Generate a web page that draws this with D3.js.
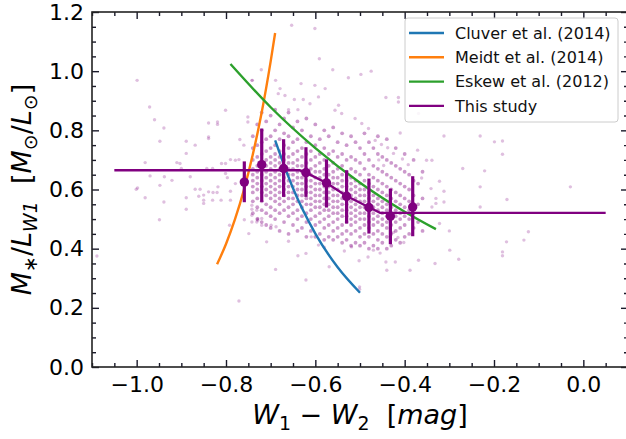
<!DOCTYPE html>
<html>
<head>
<meta charset="utf-8">
<script src="https://cdn.jsdelivr.net/npm/d3@7/dist/d3.min.js"></script>
<style>
  body { margin: 0; background: #fff; }
  svg { display: block; font-family: "DejaVu Sans", sans-serif; }
</style>
</head>
<body>
<div id="chart"></div>
<script>
// ---- data ----
// scattered galaxies outside the dense core
const outlierPts = [
  [-0.999,0.969],[-0.971,0.879],[-0.960,0.836],[-0.939,0.808],[-0.948,0.763],[-0.889,0.763],[-0.889,0.722],
  [-0.839,0.825],[-0.839,0.772],[-0.819,0.828],[-0.819,0.820],[-0.801,0.868],[-0.869,0.750],[-0.981,0.691],
  [-0.970,0.646],[-0.938,0.643],[-0.910,0.691],[-0.900,0.671],[-0.880,0.643],[-0.921,0.631],[-0.948,0.614],
  [-0.998,0.605],[-0.843,0.671],[-0.830,0.671],[-0.810,0.688],[-0.801,0.688],[-0.790,0.701],[-0.779,0.699],
  [-0.771,0.701],[-0.769,0.769],[-0.760,0.750],[-0.751,0.845],[-0.751,0.828],[-0.742,0.969],[-0.801,0.654],
  [-0.797,0.640],[-0.818,0.609],[-0.779,0.620],[-1.001,0.601],[-0.981,0.572],[-0.939,0.558],[-0.949,0.498],
  [-0.889,0.572],[-0.889,0.533],[-0.869,0.601],[-0.861,0.577],[-0.850,0.581],[-0.850,0.564],[-0.850,0.553],
  [-0.839,0.592],[-0.829,0.590],[-0.820,0.590],[-0.830,0.564],[-0.811,0.564],[-0.790,0.594],[-0.790,0.564],
  [-0.792,0.479],[-0.771,0.223],[-1.089,0.375],[-0.759,0.498],[-0.749,0.451],[-0.742,0.547],[-0.742,0.533],
  [-0.731,0.530],[-0.729,0.502],[-0.742,0.513],[-0.742,0.490],[-0.731,0.490],[-0.689,0.330],[-0.621,0.294],
  [-0.639,0.376],[-0.621,0.384],[-0.569,0.339],[-0.502,0.359],[-0.501,0.271],[-0.709,0.423],[-0.660,0.425],
  [-0.609,0.440],[-0.593,0.412],[-0.519,0.406],[-0.470,0.395],[-0.720,0.479],[-0.699,0.479],[-0.688,0.474],
  [-0.720,0.502],[-0.729,0.496],[-0.410,0.791],[-0.312,0.781],[-0.231,0.781],[-0.181,0.764],[-0.181,0.719],
  [-0.270,0.671],[-0.221,0.663],[-0.322,0.628],[-0.312,0.594],[-0.231,0.609],[-0.171,0.566],[-0.029,0.609],
  [-0.231,0.541],[-0.312,0.558],[-0.351,0.699],[-0.339,0.699],[-0.371,0.733],[-0.362,0.639],[-0.341,0.603],
  [-0.330,0.570],[-0.330,0.553],[-0.339,0.541],[-0.322,0.485],[-0.300,0.460],[-0.299,0.395],[-0.279,0.364],
  [-0.172,0.423],[-0.133,0.429],[-0.123,0.457],[-0.181,0.389],[-0.181,0.376],[-0.332,0.350],[-0.388,0.327],
  [-0.369,0.361],[-0.440,0.327],[-0.442,0.355],[-0.421,0.355],[-0.501,0.263],[-0.601,1.144],[-0.591,1.042],
  [-0.561,1.005],[-0.526,0.978],[-0.475,1.000],[-0.442,0.911],[-0.414,0.911],[-0.414,0.896],[-0.199,0.761],
  [-0.369,0.857],[-0.653,1.155],[-0.741,0.969],[-0.721,1.005],[-0.632,0.958],[-0.858,0.601],[-0.839,0.778],
  [-0.903,0.688],[-0.689,0.969],[-0.498,0.989],[-0.601,0.952],[-0.578,0.941],[-0.683,0.924],[-0.668,0.918],
  [-0.647,0.904],[-0.679,0.941],[-0.627,0.904],[-0.612,0.890],[-0.660,0.870],[-0.639,0.870],[-0.593,0.913],
  [-0.556,0.868],[-0.541,0.857],[-0.511,0.840],[-0.496,0.823],[-0.481,0.806],[-0.466,0.766],[-0.548,0.885],
  [-0.452,0.752],[-0.438,0.741],[-0.425,0.722],[-0.405,0.703],[-0.392,0.684],[-0.458,0.700],[-0.447,0.681],
  [-0.425,0.455],[-0.415,0.438],[-0.402,0.421],[-0.455,0.385],[-0.482,0.372],[-0.535,0.392],[-0.580,0.405]
];

// dense core, one column of y values per colour bin
const coreX = [-0.74,-0.73,-0.72,-0.71,-0.70,-0.69,-0.68,-0.67,-0.66,-0.65,-0.64,-0.63,-0.62,-0.61,-0.60,
  -0.59,-0.58,-0.57,-0.56,-0.55,-0.54,-0.53,-0.52,-0.51,-0.50,-0.49,-0.48,-0.47,-0.46,-0.45,-0.44,-0.43,
  -0.42,-0.41,-0.40,-0.39,-0.38,-0.37,-0.36];
const coreY = [
  [0.52,0.56,0.59,0.61,0.63,0.65,0.67,0.70,0.74,0.78],
  [0.50,0.54,0.57,0.60,0.62,0.64,0.66,0.68,0.71,0.75,0.82],
  [0.49,0.53,0.56,0.59,0.61,0.63,0.65,0.67,0.69,0.72,0.76,0.80,0.86],
  [0.48,0.52,0.55,0.58,0.60,0.62,0.64,0.66,0.68,0.70,0.73,0.77,0.83],
  [0.47,0.51,0.54,0.57,0.59,0.61,0.63,0.65,0.67,0.69,0.71,0.74,0.78,0.85],
  [0.50,0.53,0.56,0.58,0.60,0.62,0.64,0.66,0.68,0.70,0.72,0.75,0.80,0.87],
  [0.46,0.52,0.55,0.57,0.59,0.61,0.63,0.65,0.67,0.69,0.71,0.73,0.77,0.82],
  [0.49,0.53,0.56,0.58,0.60,0.62,0.64,0.66,0.68,0.70,0.72,0.75,0.79,0.84],
  [0.45,0.51,0.54,0.57,0.59,0.61,0.63,0.65,0.67,0.69,0.71,0.74,0.78,0.86],
  [0.48,0.52,0.55,0.57,0.59,0.61,0.63,0.65,0.67,0.69,0.72,0.76,0.81],
  [0.46,0.50,0.53,0.56,0.58,0.60,0.62,0.64,0.66,0.68,0.70,0.73,0.77,0.83],
  [0.47,0.51,0.54,0.56,0.58,0.60,0.62,0.64,0.66,0.68,0.71,0.74,0.80],
  [0.44,0.49,0.52,0.55,0.57,0.59,0.61,0.63,0.65,0.67,0.69,0.72,0.76,0.84],
  [0.46,0.50,0.53,0.55,0.57,0.59,0.61,0.63,0.65,0.67,0.70,0.73,0.78],
  [0.44,0.48,0.51,0.54,0.56,0.58,0.60,0.62,0.64,0.66,0.68,0.71,0.75,0.82],
  [0.45,0.49,0.52,0.54,0.56,0.58,0.60,0.62,0.64,0.66,0.69,0.72,0.77],
  [0.43,0.47,0.50,0.53,0.55,0.57,0.59,0.61,0.63,0.65,0.67,0.70,0.74,0.80],
  [0.44,0.48,0.51,0.53,0.55,0.57,0.59,0.61,0.63,0.65,0.68,0.72,0.78],
  [0.43,0.46,0.49,0.52,0.54,0.56,0.58,0.60,0.62,0.64,0.66,0.69,0.73,0.81],
  [0.44,0.47,0.50,0.52,0.54,0.56,0.58,0.60,0.62,0.64,0.67,0.71,0.76],
  [0.42,0.45,0.48,0.51,0.53,0.55,0.57,0.59,0.61,0.63,0.65,0.68,0.72,0.79],
  [0.43,0.46,0.49,0.51,0.53,0.55,0.57,0.59,0.61,0.63,0.66,0.70,0.75],
  [0.41,0.45,0.48,0.50,0.52,0.54,0.56,0.58,0.60,0.62,0.64,0.67,0.71,0.78],
  [0.42,0.46,0.49,0.51,0.53,0.55,0.57,0.59,0.61,0.63,0.66,0.70,0.76],
  [0.41,0.44,0.47,0.50,0.52,0.54,0.56,0.58,0.60,0.62,0.65,0.69,0.74],
  [0.42,0.45,0.48,0.50,0.52,0.54,0.56,0.58,0.60,0.63,0.67,0.72,0.79],
  [0.40,0.44,0.47,0.49,0.51,0.53,0.55,0.57,0.59,0.62,0.65,0.70,0.76],
  [0.41,0.45,0.48,0.50,0.52,0.54,0.56,0.58,0.61,0.64,0.68,0.74],
  [0.40,0.43,0.46,0.49,0.51,0.53,0.55,0.57,0.60,0.63,0.67,0.72,0.78],
  [0.42,0.45,0.48,0.50,0.52,0.54,0.56,0.59,0.62,0.66,0.71],
  [0.40,0.44,0.47,0.49,0.51,0.53,0.55,0.58,0.61,0.65,0.70,0.77],
  [0.41,0.45,0.48,0.50,0.52,0.54,0.57,0.60,0.64,0.69],
  [0.43,0.46,0.49,0.51,0.53,0.56,0.59,0.63,0.68,0.74],
  [0.42,0.47,0.50,0.52,0.55,0.58,0.62,0.67],
  [0.44,0.48,0.51,0.54,0.57,0.61,0.66,0.72],
  [0.45,0.50,0.53,0.56,0.60,0.65],
  [0.47,0.52,0.58,0.63,0.70],
  [0.49,0.55,0.62],
  [0.46,0.57,0.66]
];

// literature relations (sampled along the drawn curves)
const cluverX = [-0.69, -0.65, -0.60, -0.55, -0.50];
const cluverY = [0.766, 0.604, 0.451, 0.337, 0.251];
const meidtX = [-0.82, -0.80, -0.78, -0.76, -0.74, -0.72, -0.70, -0.69];
const meidtY = [0.347, 0.416, 0.499, 0.598, 0.718, 0.861, 1.033, 1.129];
const eskewX = [-0.79, -0.70, -0.60, -0.50, -0.40, -0.33];
const eskewY = [1.024, 0.878, 0.740, 0.623, 0.525, 0.466];

// this study: fitted relation and binned medians
const studyX = [-1.05, -0.635, -0.621, -0.575, -0.530, -0.480, -0.455, 0.05];
const studyY = [0.665, 0.665, 0.657, 0.622, 0.578, 0.540, 0.521, 0.521];
const binX  = [-0.759, -0.720, -0.671, -0.621, -0.575, -0.530, -0.480, -0.432, -0.382];
const binY  = [0.625, 0.684, 0.671, 0.657, 0.622, 0.577, 0.539, 0.510, 0.541];
const binLo = [0.557, 0.558, 0.575, 0.575, 0.539, 0.485, 0.451, 0.415, 0.442];
const binHi = [0.695, 0.806, 0.770, 0.743, 0.702, 0.665, 0.637, 0.603, 0.645];

const legendNames = ['Cluver et al. (2014)', 'Meidt et al. (2014)', 'Eskew et al. (2012)', 'This study'];
const legendColors = ['#1f77b4', '#ff7f0e', '#2ca02c', 'purple'];

// ---- layout ----
const W = 626, H = 439;
const margin = { left: 92, top: 12 };
const width = 536, height = 355;

const svg = d3.select('#chart').append('svg')
    .attr('width', W)
    .attr('height', H);

const g = svg.append('g')
    .attr('transform', 'translate(' + margin.left + ',' + margin.top + ')');

const x = d3.scaleLinear().domain([-1.1, 0.1]).range([0, width]);
const y = d3.scaleLinear().domain([0, 1.2]).range([height, 0]);

const plot = g.append('g');

// scatter
const corePts = [];
coreX.forEach((cx, i) => coreY[i].forEach(cy => corePts.push([cx, cy])));

plot.selectAll('circle.pt')
    .data(outlierPts)
    .enter()
    .append('circle')
    .attr('class', 'pt')
    .attr('cx', d => x(d[0]))
    .attr('cy', d => y(d[1]))
    .attr('r', 1.7)
    .attr('fill', 'purple')
    .attr('opacity', 0.25);

plot.selectAll('circle.core')
    .data(corePts)
    .enter()
    .append('circle')
    .attr('class', 'core')
    .attr('cx', d => x(d[0]))
    .attr('cy', d => y(d[1]))
    .attr('r', 1.9)
    .attr('fill', 'purple')
    .attr('opacity', 0.4);

const line = d3.line().x(d => x(d[0])).y(d => y(d[1]));
const curve = d3.line().x(d => x(d[0])).y(d => y(d[1])).curve(d3.curveMonotoneX);

function drawCurve(xs, ys, color, gen) {
    plot.append('path')
        .datum(xs.map((v, i) => [v, ys[i]]))
        .attr('d', gen)
        .attr('fill', 'none')
        .attr('stroke', color)
        .attr('stroke-width', 2.4);
}

drawCurve(cluverX, cluverY, legendColors[0], curve);
drawCurve(meidtX, meidtY, legendColors[1], curve);
drawCurve(eskewX, eskewY, legendColors[2], curve);
drawCurve(studyX, studyY, legendColors[3], line);

// error bars
plot.selectAll('line.err')
    .data(binX)
    .enter()
    .append('line')
    .attr('class', 'err')
    .attr('x1', d => x(d))
    .attr('x2', d => x(d))
    .attr('y1', (d, i) => y(binLo[i]))
    .attr('y2', (d, i) => y(binHi[i]))
    .attr('stroke', 'purple')
    .attr('stroke-width', 3.2);

plot.selectAll('circle.bin')
    .data(binX)
    .enter()
    .append('circle')
    .attr('class', 'bin')
    .attr('cx', d => x(d))
    .attr('cy', (d, i) => y(binY[i]))
    .attr('r', 4.7)
    .attr('fill', 'purple');

// ---- axes: ticks inward on all four sides ----
const fmt = d3.format('.1f');
const xMajor = d3.range(-1.0, 0.01, 0.2).map(v => +v.toFixed(2));
const yMajor = d3.range(0, 1.21, 0.2).map(v => +v.toFixed(2));
const xMinor = d3.range(-1.1, 0.101, 0.05).map(v => +v.toFixed(2)).filter(v => !xMajor.some(m => Math.abs(m - v) < 1e-6));
const yMinor = d3.range(0, 1.201, 0.05).map(v => +v.toFixed(2)).filter(v => !yMajor.some(m => Math.abs(m - v) < 1e-6));

function styleAxis(a) {
    a.select('.domain').remove();
    a.selectAll('line').attr('stroke', '#1a1a2a').attr('stroke-width', 1.4);
    a.selectAll('text').attr('font-size', 22).attr('fill', '#000')
        .attr('font-family', '"DejaVu Sans", sans-serif');
}

g.append('g').attr('transform', 'translate(0,' + height + ')')
    .call(d3.axisBottom(x).tickValues(xMajor).tickFormat(fmt).tickSize(-7).tickPadding(9))
    .call(styleAxis);
g.append('g').attr('transform', 'translate(0,' + height + ')')
    .call(d3.axisBottom(x).tickValues(xMinor).tickFormat('').tickSize(-4))
    .call(styleAxis);
g.append('g')
    .call(d3.axisTop(x).tickValues(xMajor).tickFormat('').tickSize(-7))
    .call(styleAxis);
g.append('g')
    .call(d3.axisTop(x).tickValues(xMinor).tickFormat('').tickSize(-4))
    .call(styleAxis);

g.append('g')
    .call(d3.axisLeft(y).tickValues(yMajor).tickFormat(fmt).tickSize(-7).tickPadding(8))
    .call(styleAxis);
g.append('g')
    .call(d3.axisLeft(y).tickValues(yMinor).tickFormat('').tickSize(-4))
    .call(styleAxis);
g.append('g').attr('transform', 'translate(' + width + ',0)')
    .call(d3.axisRight(y).tickValues(yMajor).tickFormat('').tickSize(-7))
    .call(styleAxis);
g.append('g').attr('transform', 'translate(' + width + ',0)')
    .call(d3.axisRight(y).tickValues(yMinor).tickFormat('').tickSize(-4))
    .call(styleAxis);

// frame
g.append('rect')
    .attr('width', width)
    .attr('height', height)
    .attr('fill', 'none')
    .attr('stroke', '#222')
    .attr('stroke-width', 1.6);

// ---- legend ----
const leg = g.append('g').attr('transform', 'translate(313,6)');
leg.append('rect')
    .attr('width', 213)
    .attr('height', 104)
    .attr('rx', 3)
    .attr('fill', 'white')
    .attr('fill-opacity', 0.85)
    .attr('stroke', '#cccccc')
    .attr('stroke-width', 1);

legendNames.forEach((name, i) => {
    const row = leg.append('g').attr('transform', 'translate(0,' + (15 + i * 24.3) + ')');
    row.append('line')
        .attr('x1', 4).attr('x2', 39)
        .attr('stroke', legendColors[i])
        .attr('stroke-width', 2.4);
    row.append('text')
        .attr('x', 50)
        .attr('dy', '0.36em')
        .attr('font-size', 16)
        .attr('fill', '#111')
        .text(name);
});

// ---- axis labels (math style) ----
function mathLabel(text, parts, fs) {
    let down = false;
    parts.forEach(p => {
        const ts = text.append('tspan').text(p.t);
        if (p.i) ts.style('font-style', 'italic');
        if (p.sub) {
            ts.attr('font-size', fs * 0.7);
            if (!down) { ts.attr('dy', fs * 0.24); down = true; }
        } else if (down) {
            ts.attr('dy', -fs * 0.24);
            down = false;
        }
    });
}

const xLab = svg.append('text')
    .attr('x', margin.left + x(-0.5))
    .attr('y', 424)
    .attr('text-anchor', 'middle')
    .attr('font-size', 27)
    .attr('fill', '#000');
mathLabel(xLab, [
    { t: 'W', i: true }, { t: '1', sub: true },
    { t: ' \u2212 ' }, { t: 'W', i: true }, { t: '2', sub: true },
    { t: '\u00a0\u00a0[' }, { t: 'mag', i: true }, { t: ']' }
], 27);

const yLab = svg.append('text')
    .attr('transform', 'translate(31,' + (margin.top + height / 2) + ') rotate(-90)')
    .attr('text-anchor', 'middle')
    .attr('font-size', 27)
    .attr('fill', '#000');
mathLabel(yLab, [
    { t: 'M', i: true }, { t: '\u2217', sub: true },
    { t: '/' }, { t: 'L', i: true }, { t: 'W1', i: true, sub: true },
    { t: '\u00a0\u00a0[' }, { t: 'M', i: true }, { t: '\u2299', sub: true },
    { t: '/' }, { t: 'L', i: true }, { t: '\u2299', sub: true }, { t: ']' }
], 27);
</script>
</body>
</html>
